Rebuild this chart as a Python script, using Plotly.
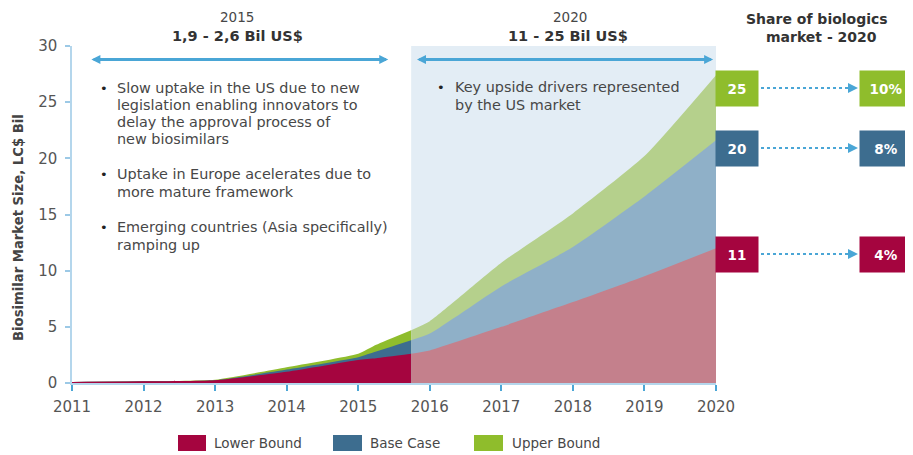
import plotly.graph_objects as go

# ---------------- data ----------------
years = [2011, 2012, 2013, 2014, 2015, 2015.25, 2015.74, 2016, 2017, 2018, 2019, 2020]
lower_bound = [0.1, 0.15, 0.25, 1.0, 2.05, 2.2, 2.6, 2.9, 5.0, 7.2, 9.5, 12.0]
base_case = [0.1, 0.15, 0.25, 1.2, 2.3, 2.8, 3.8, 4.4, 8.6, 12.1, 16.6, 21.6]
upper_bound = [0.1, 0.15, 0.3, 1.4, 2.6, 3.4, 4.7, 5.5, 10.7, 15.1, 20.2, 27.4]
forecast_start = 2015.74
series_names = ["Lower Bound", "Base Case", "Upper Bound"]
market_2020 = ["11", "20", "25"]
share_2020 = ["4%", "8%", "10%"]
x_ticks = [2011, 2012, 2013, 2014, 2015, 2016, 2017, 2018, 2019, 2020]
y_ticks = [0, 5, 10, 15, 20, 25, 30]

dark_colors = ["#a5053f", "#3d6d8f", "#8fbd2c"]
light_colors = ["#c4808c", "#8fb0c8", "#b5d08c"]
FONT = "DejaVu Sans"
TXT = "#474747"

# page geometry: the figure sits at an 8px page offset
OFF = 8
W, H = 913 - OFF, 455 - OFF
L, R, T, B = 72 - OFF, 197, 46 - OFF, 72
PW, PH = W - L - R, H - T - B


def px_x(px):
    # page pixel -> paper x
    return (px - OFF - L) / PW


def px_y(py):
    # page pixel -> paper y
    return (H - B - (py - OFF)) / PH


fig = go.Figure()

split = years.index(forecast_start)
series = [lower_bound, base_case, upper_bound]
for i in [2, 1, 0]:
    vals = series[i]
    fig.add_trace(go.Scatter(
        x=years[:split + 1], y=vals[:split + 1], mode="lines",
        line=dict(width=0, shape="spline", smoothing=0.5, color=dark_colors[i]),
        fill="tozeroy", fillcolor=dark_colors[i], name=series_names[i],
        showlegend=False, hoverinfo="skip"))
    fig.add_trace(go.Scatter(
        x=years[split:], y=vals[split:], mode="lines",
        line=dict(width=0, shape="spline", smoothing=0.5, color=light_colors[i]),
        fill="tozeroy", fillcolor=light_colors[i], name=series_names[i],
        showlegend=False, hoverinfo="skip"))

shapes = []
annotations = []

# forecast shading
shapes.append(dict(type="rect", xref="x", yref="y", x0=forecast_start, x1=2020,
                   y0=0, y1=30, fillcolor="#e3edf5", line=dict(width=0), layer="below"))

# double-headed arrows at top
for x0, x1 in [(2011.25, 2015.42), (2015.8, 2019.96)]:
    annotations.append(dict(x=x1, y=28.8, ax=x0, ay=28.8, xref="x", yref="y",
                            axref="x", ayref="y", text="", showarrow=True,
                            arrowhead=2, startarrowhead=2, arrowside="end+start",
                            arrowsize=0.6, startarrowsize=0.6, arrowwidth=3,
                            arrowcolor="#4aa6d6"))

# headers
hdr = [
    ("2015", 237, 17, 13.5, TXT),
    ("<b>1,9 - 2,6 Bil US$</b>", 237, 36, 14.5, "#333"),
    ("2020", 570, 17, 13.5, TXT),
    ("<b>11 - 25 Bil US$</b>", 568, 36, 14.5, "#333"),
    ("<b>Share of biologics</b>", 817, 19, 14, "#333"),
    ("<b>market - 2020</b>", 821, 37, 14, "#333"),
]
for txt, px, py, fs, col in hdr:
    annotations.append(dict(text=txt, x=px_x(px), y=px_y(py), xref="paper", yref="paper",
                            showarrow=False, xanchor="center", yanchor="middle",
                            font=dict(size=fs, color=col, family=FONT)))

# bullet texts
left_lines = [
    (88, True, "Slow uptake in the US due to new"),
    (105, False, "legislation enabling innovators to"),
    (122, False, "delay the approval process of"),
    (139, False, "new biosimilars"),
    (174, True, "Uptake in Europe acelerates due to"),
    (192, False, "more mature framework"),
    (227, True, "Emerging countries (Asia specifically)"),
    (245, False, "ramping up"),
]
right_lines = [
    (87, True, "Key upside drivers represented"),
    (105, False, "by the US market"),
]
for lines, bx, tx in [(left_lines, 104, 115), (right_lines, 441, 453)]:
    for py, bullet, txt in lines:
        if bullet:
            annotations.append(dict(text="•", x=px_x(bx), y=px_y(py), xref="paper", yref="paper",
                                    showarrow=False, xanchor="center", yanchor="middle",
                                    font=dict(size=13, color="#222", family=FONT)))
        annotations.append(dict(text=txt, x=px_x(tx), y=px_y(py), xref="paper", yref="paper",
                                showarrow=False, xanchor="left", yanchor="middle",
                                font=dict(size=14.4, color=TXT, family=FONT)))

# right-hand boxes
box_rows = [(254, 0), (148, 1), (88, 2)]
for py, i in box_rows:
    annotations.append(dict(text="<b>%s</b>" % market_2020[i], x=px_x(737), y=px_y(py),
                            xref="paper", yref="paper", showarrow=False,
                            xanchor="center", yanchor="middle", bgcolor=dark_colors[i],
                            width=40, height=33, font=dict(size=13.5, color="white")))
    annotations.append(dict(text="<b>%s</b>" % share_2020[i], x=px_x(886), y=px_y(py),
                            xref="paper", yref="paper", showarrow=False,
                            xanchor="center", yanchor="middle", bgcolor=dark_colors[i],
                            width=50, height=33, font=dict(size=13.5, color="white")))
    shapes.append(dict(type="line", xref="paper", yref="paper", x0=px_x(761), x1=px_x(852),
                       y0=px_y(py), y1=px_y(py), line=dict(color="#4aa6d6", width=2, dash="dot")))
    annotations.append(dict(x=px_x(858), y=px_y(py), xref="paper", yref="paper",
                            ax=-6, ay=0, text="", showarrow=True, arrowhead=2,
                            arrowsize=1, arrowwidth=2, arrowcolor="#4aa6d6"))

# manual legend
legend_items = [(178, 206, 212, 0), (333, 362, 368, 1), (474, 503, 510, 2)]
for x0, x1, tx, i in legend_items:
    shapes.append(dict(type="rect", xref="paper", yref="paper", x0=px_x(x0), x1=px_x(x1),
                       y0=px_y(451), y1=px_y(435), fillcolor=dark_colors[i], line=dict(width=0)))
    annotations.append(dict(text=series_names[i], x=px_x(tx), y=px_y(443), xref="paper",
                            yref="paper", showarrow=False, xanchor="left", yanchor="middle",
                            font=dict(size=13.5, color=TXT, family=FONT)))

# y-axis title
annotations.append(dict(text="<b>Biosimilar Market Size, LC$ Bil</b>", x=px_x(18), y=px_y(228),
                        xref="paper", yref="paper", showarrow=False, textangle=-90,
                        xanchor="center", yanchor="middle",
                        font=dict(size=13.2, color="#444", family=FONT)))

fig.update_layout(
    width=W, height=H,
    margin=dict(l=L, r=R, t=T, b=B),
    paper_bgcolor="white", plot_bgcolor="white",
    font=dict(family=FONT, color=TXT),
    showlegend=False,
    shapes=shapes, annotations=annotations,
    xaxis=dict(range=[2011, 2020], tickvals=x_ticks, ticktext=[str(v) for v in x_ticks],
               showgrid=False, zeroline=False, showline=True, linecolor="#b4d6ec", linewidth=1.5,
               ticks="outside", ticklen=6, tickwidth=2, tickcolor="#4aa6d6",
               ticklabelstandoff=3,
               tickfont=dict(size=15, color="#555")),
    yaxis=dict(range=[0, 30], tickvals=y_ticks, showgrid=False, zeroline=False,
               showline=True, linecolor="#b4d6ec", linewidth=1.5,
               ticks="outside", ticklen=5, tickwidth=1.5, tickcolor="#9cc9e6",
               ticklabelstandoff=5,
               tickfont=dict(size=15, color="#555")),
)

fig.write_html("out.html")
